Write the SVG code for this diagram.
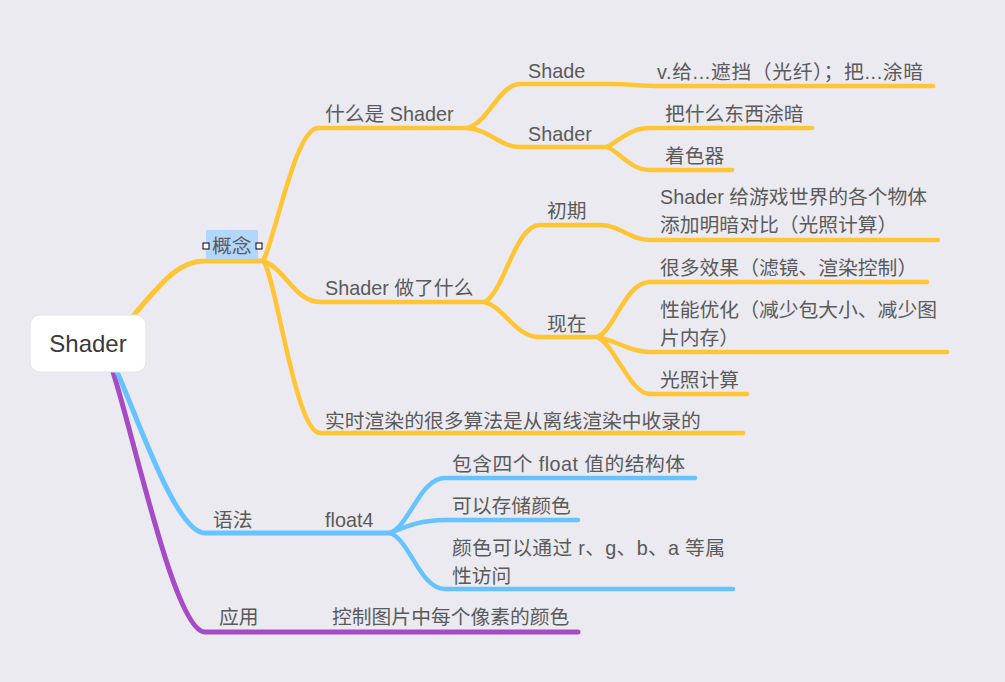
<svg xmlns="http://www.w3.org/2000/svg" width="1005" height="682" viewBox="0 0 1005 682">
<style>
.bg{fill:#EBEAF1}
.t{font-family:"Liberation Sans","Noto Sans CJK SC",sans-serif;font-size:19.8px;fill:#5a5a5a}
.rt{font-family:"Liberation Sans","Noto Sans CJK SC",sans-serif;font-size:24px;fill:#3a3a3a}
.c{fill:none;stroke-linecap:round;stroke-linejoin:round}
.y{stroke:#FFC535}
.b{stroke:#66C3FF}
.p{stroke:#A64AC6}
.w1{stroke-width:5}
.w2{stroke-width:4.5}
</style>
<rect class="bg" x="0" y="0" width="1005" height="682"/>
<g id="connectors">
<path class="c p w1" d="M113,372 C135,440 175,632 205,632 L578,632"/>
<path class="c b w1" d="M117,372 C135,410 175,533 205,533 L390,533"/>
<path class="c b w2" d="M390,533 C410,525 420,478 445,478 L695,478"/>
<path class="c b w2" d="M390,533 C405,527 420,520 445,520 L578,520"/>
<path class="c b w2" d="M390,533 C410,540 420,589 445,589 L733,589"/>
<path class="c y w1" d="M133,316 C165,278 180,261 205,261 L263,261"/>
<path class="c y w2" d="M263,261 C275,240 295,128 318,128 L468,128"/>
<path class="c y w2" d="M263,261 C285,268 295,302 320,302 L485,302"/>
<path class="c y w2" d="M263,261 C275,270 295,433 320,433 L743,433"/>
<path class="c y w2" d="M468,128 C488,122 500,84 520,84 L610,84 C630,84 640,86 660,86 L933,86"/>
<path class="c y w2" d="M468,128 C490,130 500,147 520,147 L607,147"/>
<path class="c y w2" d="M607,147 C620,140 630,128 650,128 L812,128"/>
<path class="c y w2" d="M607,147 C620,152 630,170 650,170 L732,170"/>
<path class="c y w2" d="M485,302 C505,290 515,225 540,225 L600,225 C620,225 630,240 650,240 L938,240"/>
<path class="c y w2" d="M485,302 C505,308 515,337 540,337 L597,337"/>
<path class="c y w2" d="M597,337 C615,330 625,282 650,282 L927,282"/>
<path class="c y w2" d="M597,337 C615,340 630,352 650,352 L947,352"/>
<path class="c y w2" d="M597,337 C615,345 630,394 650,394 L747,394"/>
</g>
<g id="root">
<rect x="30" y="315" width="116" height="57" rx="10" fill="#fff" stroke="#e4e3ea" stroke-width="1"/>
<text class="rt" x="88" y="352" text-anchor="middle">Shader</text>
</g>
<g id="n-gainian">
<rect x="206" y="230" width="52" height="29" fill="#B3D6FB"/>
<text class="t" x="212" y="253">概念</text>
<rect x="203" y="243" width="6" height="6" fill="#fff" stroke="#000" stroke-width="1"/>
<rect x="256" y="243" width="6" height="6" fill="#fff" stroke="#000" stroke-width="1"/>
</g>
<g id="n-what"><text class="t" x="325" y="121">什么是 Shader</text></g>
<g id="n-shade"><text class="t" x="528" y="78">Shade</text></g>
<g id="n-shade-def"><text class="t" x="657" y="79" textLength="266" lengthAdjust="spacing">v.给...遮挡（光纤）；把...涂暗</text></g>
<g id="n-shader2"><text class="t" x="528" y="141">Shader</text></g>
<g id="n-darken"><text class="t" x="665" y="121">把什么东西涂暗</text></g>
<g id="n-colorer"><text class="t" x="665" y="163">着色器</text></g>
<g id="n-did"><text class="t" x="325" y="295">Shader 做了什么</text></g>
<g id="n-early"><text class="t" x="547" y="218">初期</text></g>
<g id="n-early-1"><text class="t" x="660" y="204">Shader 给游戏世界的各个物体</text><text class="t" x="660" y="232">添加明暗对比（光照计算）</text></g>
<g id="n-now"><text class="t" x="547" y="331">现在</text></g>
<g id="n-now-1"><text class="t" x="660" y="275">很多效果（滤镜、渲染控制）</text></g>
<g id="n-now-2"><text class="t" x="660" y="317">性能优化（减少包大小、减少图</text><text class="t" x="660" y="345">片内存）</text></g>
<g id="n-now-3"><text class="t" x="660" y="387">光照计算</text></g>
<g id="n-realtime"><text class="t" x="325" y="428">实时渲染的很多算法是从离线渲染中收录的</text></g>
<g id="n-syntax"><text class="t" x="213" y="527">语法</text></g>
<g id="n-float4"><text class="t" x="325" y="527">float4</text></g>
<g id="n-f1"><text class="t" x="452" y="471" textLength="233" lengthAdjust="spacing">包含四个 float 值的结构体</text></g>
<g id="n-f2"><text class="t" x="452" y="513">可以存储颜色</text></g>
<g id="n-f3"><text class="t" x="452" y="555" textLength="273" lengthAdjust="spacing">颜色可以通过 r、g、b、a 等属</text><text class="t" x="452" y="583">性访问</text></g>
<g id="n-app"><text class="t" x="219" y="624">应用</text></g>
<g id="n-app-1"><text class="t" x="332" y="624">控制图片中每个像素的颜色</text></g>
</svg>
